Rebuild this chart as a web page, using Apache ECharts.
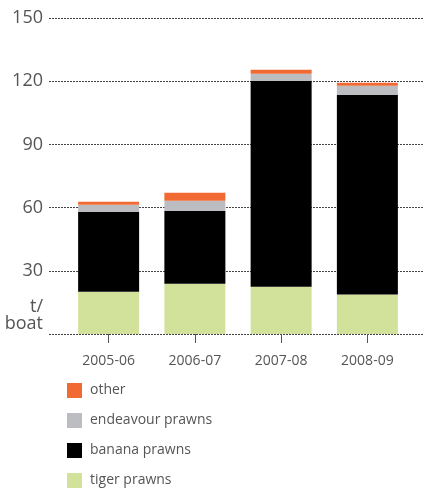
<!DOCTYPE html>
<html><head><meta charset="utf-8">
<script src="https://cdn.jsdelivr.net/npm/echarts@6/dist/echarts.min.js"></script>
<style>html,body{margin:0;padding:0;background:#fff}#c{width:424px;height:488px}</style>
</head><body><div id="c"></div>
<script>
const categories = ['2005-06', '2006-07', '2007-08', '2008-09'];
const tigerPrawns = [20.1, 23.9, 22.4, 18.7];
const bananaPrawns = [37.9, 34.6, 97.8, 94.9];
const endeavourPrawns = [3.4, 4.8, 3.3, 4.2];
const other = [1.4, 3.8, 1.9, 1.5];
const yTicks = [0, 30, 60, 90, 120, 150];

const font = 'Open Sans';
const chart = echarts.init(document.getElementById('c'), null, {renderer: 'canvas'});
chart.setOption({
  animation: false,
  textStyle: {fontFamily: font},
  grid: [
    {left: 49, right: 0, top: 18, bottom: 154},
    {left: 65.5, right: 13.5, top: 18, bottom: 154}
  ],
  legend: {
    orient: 'vertical', left: 67, top: 383, height: 140, itemWidth: 15, itemHeight: 15, itemGap: 15,
    icon: 'rect', padding: 0,
    data: ['other', 'endeavour prawns', 'banana prawns', 'tiger prawns'],
    textStyle: {fontFamily: font, fontSize: 14, lineHeight: 15, color: '#555', padding: [0, 0, 0, 3]}
  },
  xAxis: [
    {gridIndex: 0, type: 'value', min: 0, max: 1, show: false},
    {gridIndex: 1, type: 'category', data: categories,
     axisLine: {show: false},
     axisTick: {show: true, alignWithLabel: true, length: 9, lineStyle: {color: '#555'}},
     axisLabel: {fontFamily: font, fontSize: 14, color: '#555', margin: 20}}
  ],
  yAxis: [
    {gridIndex: 0, type: 'value', min: yTicks[0], max: yTicks[yTicks.length - 1], interval: 30,
     axisLine: {show: false}, axisTick: {show: false},
     axisLabel: {fontFamily: font, fontSize: 18, color: '#555', margin: 6,
       formatter: v => (v === 0 ? '' : String(v))},
     name: 't/\nboat', nameLocation: 'start', nameGap: -2,
     nameTextStyle: {fontFamily: font, fontSize: 18, color: '#555', align: 'right', verticalAlign: 'bottom', lineHeight: 17, padding: [0, 6, 0, 0]},
     splitLine: {show: true, lineStyle: {color: '#444', type: [2, 1], width: 1}}},
    {gridIndex: 1, type: 'value', min: 0, max: 150, show: false}
  ],
  series: [
    {name: 'tiger prawns', type: 'bar', stack: 's', xAxisIndex: 1, yAxisIndex: 1, barWidth: 61, data: tigerPrawns, itemStyle: {color: '#d3e29b'}},
    {name: 'banana prawns', type: 'bar', stack: 's', xAxisIndex: 1, yAxisIndex: 1, data: bananaPrawns, itemStyle: {color: '#000000'}},
    {name: 'endeavour prawns', type: 'bar', stack: 's', xAxisIndex: 1, yAxisIndex: 1, data: endeavourPrawns, itemStyle: {color: '#bcbdc0'}},
    {name: 'other', type: 'bar', stack: 's', xAxisIndex: 1, yAxisIndex: 1, data: other, itemStyle: {color: '#f26a33'}}
  ]
});
</script></body></html>
